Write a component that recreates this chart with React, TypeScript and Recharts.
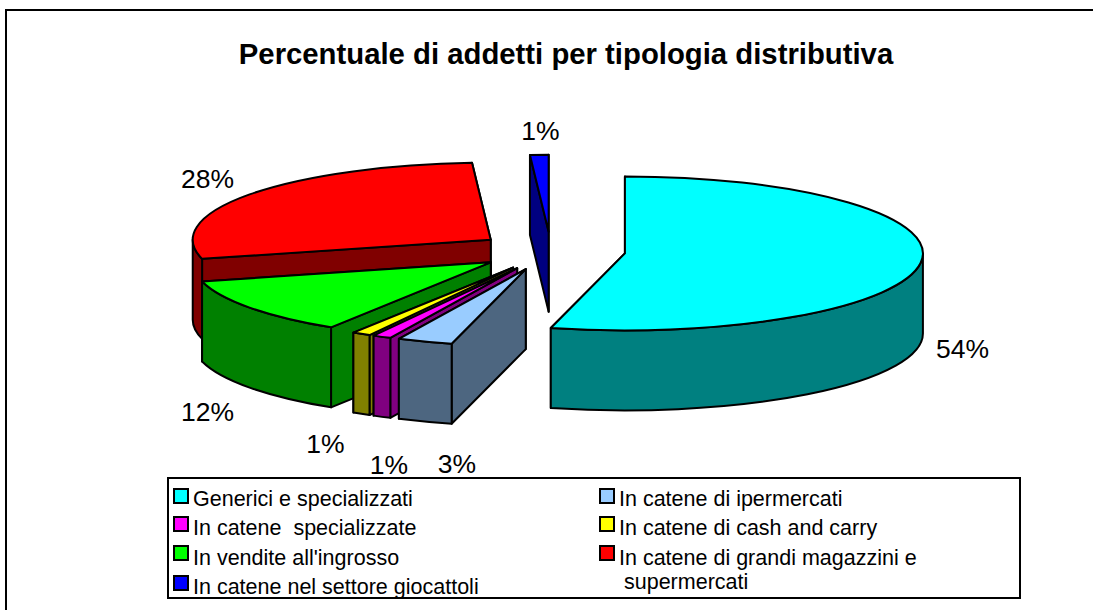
import React from 'react';
import { PieChart, Pie, Legend } from 'recharts';

const categories = [
  'Generici e specializzati',
  'In catene di ipermercati',
  'In catene  specializzate',
  'In catene di cash and carry',
  "In vendite all'ingrosso",
  'In catene di grandi magazzini e supermercati',
  'In catene nel settore giocattoli',
];
const shares = [54, 3, 1, 1, 12, 28, 1];
const topColors = ['#00FFFF', '#99CCFF', '#FF00FF', '#FFFF00', '#00FF00', '#FF0000', '#0000FF'];
const sideColors = ['#008080', '#4D6680', '#800080', '#808000', '#008000', '#800000', '#000080'];

// label offsets from the slice rim, same order as categories
const labelNudges = [[42, 6], [32, 42], [7, 48], [-36, 30], [-42, 24], [-42, -15], [1, -24]];

// drawn back to front, so the list is reversed and the pie runs counterclockwise
const pieData = categories
  .map((name, i) => ({ name, value: shares[i], top: topColors[i], side: sideColors[i], nudge: labelNudges[i] }))
  .reverse();

const CX = 551;
const CY = 251;
const RX = 298;
const SQUASH = 77 / 298;
const RY = RX * SQUASH;
const DEPTH = 80;
const EXPLODE = 0.25;
const FONT = '"Liberation Sans", Arial, sans-serif';

const rad = (d: number) => (d * Math.PI) / 180;

const Slice3D = (props: any) => {
  let a = 90 - props.endAngle;
  let b = 90 - props.startAngle;
  while (a < 0) {
    a += 360;
    b += 360;
  }
  const mid = rad((a + b) / 2);
  const ox = CX + EXPLODE * RX * Math.sin(mid);
  const oy = CY - EXPLODE * RY * Math.cos(mid);
  const pt = (t: number, drop = 0) => [ox + RX * Math.sin(rad(t)), oy - RY * Math.cos(rad(t)) + drop];
  const common = { stroke: '#000', strokeWidth: 2, strokeLinejoin: 'round' as const };

  const [ax, ay] = pt(a);
  const [bx, by] = pt(b);
  const topPath = `M${ox} ${oy} L${ax} ${ay} A${RX} ${RY} 0 ${b - a > 180 ? 1 : 0} 1 ${bx} ${by} Z`;

  // cut faces, the one further back goes first
  const faces = [a, b]
    .sort((p, q) => Math.cos(rad(q)) - Math.cos(rad(p)))
    .map((t) => {
      const [x, y] = pt(t);
      return `M${ox} ${oy} L${x} ${y} L${x} ${y + DEPTH} L${ox} ${oy + DEPTH} Z`;
    });

  const wa = Math.max(a, 90);
  const wb = Math.min(b, 270);
  let wall = null;
  if (wb > wa) {
    const [x1, y1] = pt(wa);
    const [x2, y2] = pt(wb);
    wall = `M${x1} ${y1} A${RX} ${RY} 0 0 1 ${x2} ${y2} L${x2} ${y2 + DEPTH} A${RX} ${RY} 0 0 0 ${x1} ${y1 + DEPTH} Z`;
  }

  return (
    <g>
      {faces.map((d, i) => (
        <path key={i} d={d} fill={props.payload.side ?? props.side} {...common} />
      ))}
      {wall && <path d={wall} fill={props.payload.side ?? props.side} {...common} />}
      <path d={topPath} fill={props.payload.top ?? props.top} {...common} />
    </g>
  );
};

const renderLabel = (props: any) => {
  const item = pieData[props.index];
  const m = rad(90 - props.midAngle);
  const reach = 1 + EXPLODE;
  const x = CX + reach * RX * Math.sin(m) + item.nudge[0];
  const y = CY - reach * RY * Math.cos(m) + (Math.cos(m) < 0 ? DEPTH : 0) + item.nudge[1];
  return (
    <text x={x} y={y} textAnchor="middle" dominantBaseline="central" fontFamily={FONT} fontSize={26.5} fill="#000">
      {item.value}%
    </text>
  );
};

const swatchRows = [9, 37, 66, 96];
const textRows = [8, 37, 67, 96];

const renderLegend = () => (
  <div style={{ position: 'relative', width: 850, height: 118, border: '2px solid #000', boxSizing: 'content-box', fontFamily: FONT, fontSize: 21.5, color: '#000', background: '#fff' }}>
    {categories.map((name, i) => {
      const col = i % 2;
      const row = Math.floor(i / 2);
      const left = col ? 430 : 4;
      const long = name.length > 40;
      return (
        <div key={name} style={{ whiteSpace: 'pre' }}>
          <span style={{ position: 'absolute', left, top: swatchRows[row], width: 12, height: 12, background: topColors[i], border: '2px solid #000' }} />
          <span style={{ position: 'absolute', left: left + 20, top: textRows[row], lineHeight: '24px' }}>
            {long ? 'In catene di grandi magazzini e' : name}
          </span>
          {long && (
            <span style={{ position: 'absolute', left: left + 25, top: textRows[row] + 25, lineHeight: '22px' }}>supermercati</span>
          )}
        </div>
      );
    })}
  </div>
);

const App: React.FC = () => (
  <div style={{ position: 'absolute', left: 0, top: 0, width: 1093, height: 610, background: '#fff' }}>
    <PieChart width={1093} height={610} margin={{ top: 0, right: 0, bottom: 0, left: 0 }}>
      <line x1={6} y1={10} x2={1093} y2={10} stroke="#000" strokeWidth={2} />
      <line x1={6} y1={9} x2={6} y2={610} stroke="#000" strokeWidth={2} />
      <text x={566} y={64} textAnchor="middle" fontFamily={FONT} fontWeight="bold" fontSize={29.3} fill="#000">
        Percentuale di addetti per tipologia distributiva
      </text>
      <Pie
        data={pieData}
        dataKey="value"
        nameKey="name"
        cx={CX}
        cy={CY}
        innerRadius={0}
        outerRadius={RX}
        startAngle={90}
        endAngle={450}
        stroke="none"
        shape={Slice3D}
        label={renderLabel}
        labelLine={false}
        isAnimationActive={false}
      />
      <Legend content={renderLegend} wrapperStyle={{ left: 167, top: 477, width: 854, height: 122 }} />
    </PieChart>
  </div>
);

export default App;
